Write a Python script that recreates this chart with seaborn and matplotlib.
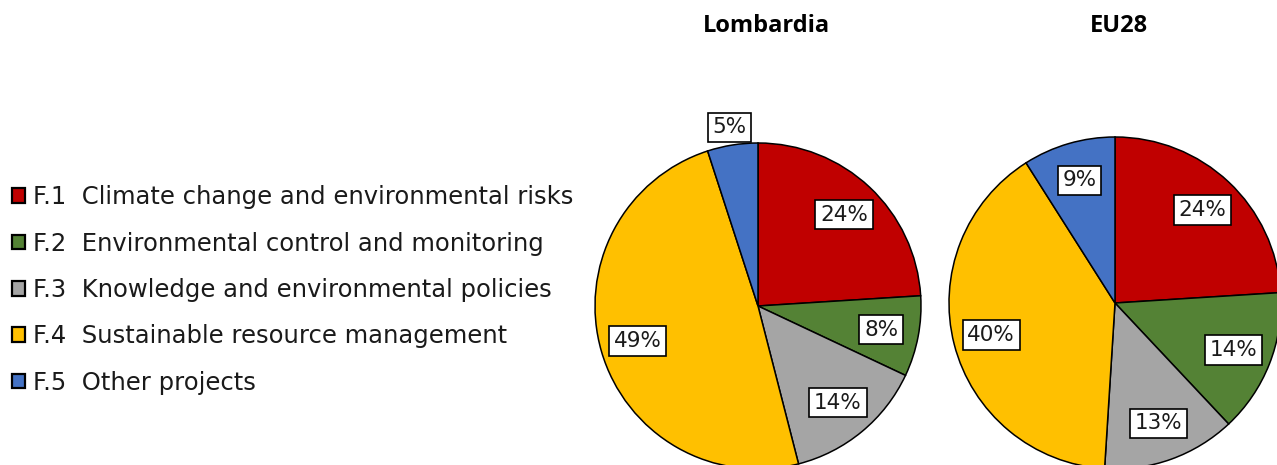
import numpy as np
import matplotlib
matplotlib.use("Agg")
import matplotlib.pyplot as plt
from matplotlib.patches import Patch
import seaborn as sns

# Data
CATEGORIES = ['F.1  Climate change and environmental risks',
              'F.2  Environmental control and monitoring',
              'F.3  Knowledge and environmental policies',
              'F.4  Sustainable resource management',
              'F.5  Other projects']
LOMBARDIA = [24, 8, 14, 49, 5]
EU28 = [24, 14, 13, 40, 9]
TITLES = ['Lombardia', 'EU28']
COLORS = ['#C00000', '#548235', '#A5A5A5', '#FFC000', '#4472C4']

W, H = 1277, 465

sns.set_theme(style='white')
plt.rcParams['font.family'] = ['DejaVu Sans']
palette = sns.color_palette(COLORS)

fig = plt.figure(figsize=(W / 100, H / 100), dpi=100)


def pie_axes(cx, cy, r):
    # axes placed so that the unit circle lands at pixel centre (cx, cy), radius r
    return fig.add_axes([(cx - r) / W, (H - cy - r) / H, 2 * r / W, 2 * r / H])


def draw_pie(ax, values, outside=()):
    wedges, _ = ax.pie(values, colors=palette, startangle=90, counterclock=False,
                       radius=1, wedgeprops=dict(edgecolor='black', linewidth=1.1))
    for i, (w, v) in enumerate(zip(wedges, values)):
        ang = np.deg2rad((w.theta1 + w.theta2) / 2)
        d = 1.11 if i in outside else 0.77
        ax.text(d * np.cos(ang), d * np.sin(ang), f'{v}%', ha='center', va='center',
                fontsize=15.5, color='#1a1a1a',
                bbox=dict(boxstyle='square,pad=0.22', facecolor='white',
                          edgecolor='black', linewidth=1.2))
    ax.set_xlim(-1, 1)
    ax.set_ylim(-1, 1)
    ax.set_aspect('equal')
    ax.axis('off')


ax1 = pie_axes(758, 306, 163)
draw_pie(ax1, LOMBARDIA, outside=(4,))
ax2 = pie_axes(1115, 303, 166)
draw_pie(ax2, EU28)

for x, t in zip([766, 1119], TITLES):
    fig.text(x / W, 1 - 26 / H, t, ha='center', va='center', fontsize=17,
             fontweight='bold', family='Open Sans', color='black')

handles = [Patch(facecolor=c, edgecolor='black', linewidth=1.6) for c in palette]
fig.legend(handles, CATEGORIES, loc='center left', bbox_to_anchor=(12 / W, 1 - 290 / H),
           frameon=False, fontsize=17.5, handlelength=0.55, handleheight=0.55,
           handletextpad=0.33, labelspacing=0.92, borderaxespad=0, borderpad=0,
           labelcolor='#1a1a1a')

fig.savefig('out.png', dpi=100)
